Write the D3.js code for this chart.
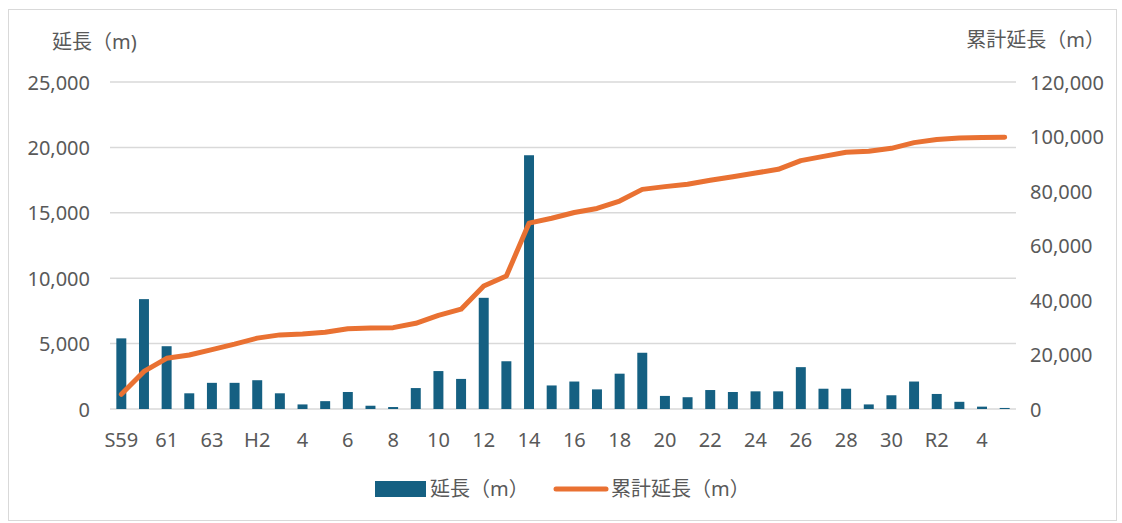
<!DOCTYPE html>
<html lang="ja">
<head>
<meta charset="utf-8">
<script src="https://cdn.jsdelivr.net/npm/d3@7/dist/d3.min.js"></script>
<style>
  html, body { margin: 0; padding: 0; background: #ffffff; }
  svg { display: block; }
  text { font-family: "Noto Sans", "Noto Sans CJK JP", sans-serif; fill: #595959; }
</style>
</head>
<body>
<svg id="chart" width="1122" height="523"></svg>
<script>
// Fiscal years (Showa → Heisei → Reiwa)
const years = [
  "S59", "60", "61", "62", "63",
  "H1", "H2", "3", "4", "5", "6", "7", "8", "9", "10",
  "11", "12", "13", "14", "15", "16", "17", "18", "19", "20",
  "21", "22", "23", "24", "25", "26", "27", "28", "29", "30",
  "R1", "R2", "3", "4", "5"
];

// Length built in each year (m)
const annualLength = [
  5400, 8400, 4800, 1200, 2000,
  2000, 2200, 1200, 350, 600, 1300, 250, 150, 1600, 2900,
  2300, 8500, 3650, 19400, 1800, 2100, 1500, 2700, 4300, 1000,
  900, 1450, 1300, 1350, 1350, 3200, 1550, 1550, 350, 1050,
  2100, 1150, 550, 180, 80
];

// Running total of the yearly lengths (m)
const cumulativeLength = Array.from(d3.cumsum(annualLength));

// Axis ticks
const leftTicks = [0, 5000, 10000, 15000, 20000, 25000];
const rightTicks = [0, 20000, 40000, 60000, 80000, 100000, 120000];

const barColor = "#156082";
const lineColor = "#E97132";
const gridColor = "#d9d9d9";
const fontSize = 20;

const svg = d3.select("#chart");

// Outer chart frame
svg.append("rect")
  .attr("x", 8.5).attr("y", 9.5)
  .attr("width", 1108).attr("height", 511)
  .attr("fill", "none").attr("stroke", gridColor).attr("stroke-width", 1);

const plot = { left: 110, right: 1016, top: 82, bottom: 409 };

const x = d3.scaleBand()
  .domain(d3.range(years.length))
  .range([plot.left, plot.right])
  .paddingInner(0.56)
  .paddingOuter(0.28);

const yLeft = d3.scaleLinear().domain([0, 25000]).range([plot.bottom, plot.top]);
const yRight = d3.scaleLinear().domain([0, 120000]).range([plot.bottom, plot.top]);

const fmt = d3.format(",");

// Horizontal gridlines follow the left axis
svg.append("g")
  .selectAll("line")
  .data(leftTicks)
  .join("line")
  .attr("x1", plot.left).attr("x2", plot.right)
  .attr("y1", d => yLeft(d)).attr("y2", d => yLeft(d))
  .attr("stroke", gridColor).attr("stroke-width", 1.5);

// Left axis (annual length)
const leftAxis = svg.append("g")
  .attr("transform", `translate(${plot.left - 20},0)`)
  .call(d3.axisLeft(yLeft).tickValues(leftTicks).tickFormat(fmt).tickSize(0).tickPadding(0));
leftAxis.select(".domain").remove();
leftAxis.selectAll("text")
  .attr("font-size", fontSize)
  .attr("font-family", null)
  .attr("dy", "0.35em");

// Right axis (cumulative length)
const rightAxis = svg.append("g")
  .attr("transform", `translate(${plot.right + 14},0)`)
  .call(d3.axisRight(yRight).tickValues(rightTicks).tickFormat(fmt).tickSize(0).tickPadding(0));
rightAxis.select(".domain").remove();
rightAxis.selectAll("text")
  .attr("font-size", fontSize)
  .attr("font-family", null)
  .attr("dy", "0.35em");

// Bottom axis: every other year is labelled
const bottomAxis = svg.append("g")
  .attr("transform", `translate(0,${plot.bottom})`)
  .call(d3.axisBottom(x)
    .tickValues(d3.range(0, years.length, 2))
    .tickFormat(i => years[i])
    .tickSize(0).tickPadding(0));
bottomAxis.select(".domain").remove();
bottomAxis.selectAll("text")
  .attr("font-size", fontSize)
  .attr("font-family", null)
  .attr("y", 31)
  .attr("dy", "0.35em");

// Bars
svg.append("g")
  .selectAll("rect")
  .data(annualLength)
  .join("rect")
  .attr("x", (d, i) => x(i))
  .attr("width", x.bandwidth())
  .attr("y", d => yLeft(d))
  .attr("height", d => yLeft(0) - yLeft(d))
  .attr("fill", barColor);

// Cumulative line
const line = d3.line()
  .x((d, i) => x(i) + x.bandwidth() / 2)
  .y(d => yRight(d));

svg.append("path")
  .datum(cumulativeLength)
  .attr("d", line)
  .attr("fill", "none")
  .attr("stroke", lineColor)
  .attr("stroke-width", 5)
  .attr("stroke-linejoin", "round")
  .attr("stroke-linecap", "round");

// Axis titles
svg.append("text")
  .attr("x", 52).attr("y", 42)
  .attr("dy", "0.35em")
  .attr("font-size", fontSize)
  .text("延長（m)");

svg.append("text")
  .attr("x", 1105).attr("y", 40)
  .attr("dy", "0.35em")
  .attr("text-anchor", "end")
  .attr("font-size", fontSize)
  .text("累計延長（m）");

// Legend
const legend = svg.append("g");
legend.append("rect")
  .attr("x", 375).attr("y", 481)
  .attr("width", 51).attr("height", 16)
  .attr("fill", barColor);
legend.append("text")
  .attr("x", 430).attr("y", 489)
  .attr("dy", "0.35em")
  .attr("font-size", fontSize)
  .text("延長（m）");
legend.append("line")
  .attr("x1", 556).attr("x2", 606)
  .attr("y1", 489).attr("y2", 489)
  .attr("stroke", lineColor)
  .attr("stroke-width", 5)
  .attr("stroke-linecap", "round");
legend.append("text")
  .attr("x", 611).attr("y", 489)
  .attr("dy", "0.35em")
  .attr("font-size", fontSize)
  .text("累計延長（m）");
</script>
</body>
</html>
